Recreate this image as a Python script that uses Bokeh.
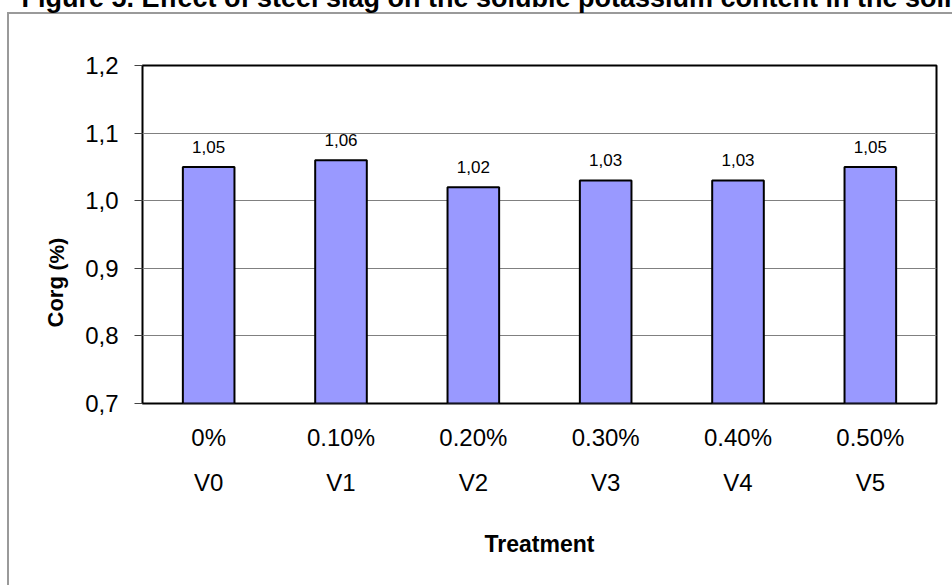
import math

from bokeh.core.properties import value
from bokeh.embed import file_html
from bokeh.models import (CategoricalAxis, ColumnDataSource,
                          CustomJSTickFormatter, FactorRange, FixedTicker, Label,
                          LabelSet, Range1d)
from bokeh.plotting import figure
from bokeh.resources import INLINE

# ---- data -------------------------------------------------------------
treatments = ["V0", "V1", "V2", "V3", "V4", "V5"]
doses = ["0%", "0.10%", "0.20%", "0.30%", "0.40%", "0.50%"]
corg = [1.05, 1.06, 1.02, 1.03, 1.03, 1.05]
y_ticks = [0.7, 0.8, 0.9, 1.0, 1.1, 1.2]
title_text = "Figure 5. Effect of steel slag on the soluble potassium content in the soil"
x_title = "Treatment"

FONT = "Liberation Sans"
Y0, Y1 = 0.7, 1.2
BORDER = "#9a9a9a"

p = figure(
    width=952, height=585,
    x_range=FactorRange(factors=treatments, range_padding=0, factor_padding=0),
    y_range=Range1d(Y0, Y1),
    output_backend="svg", toolbar_location=None,
    min_border_left=142, min_border_right=16,
    min_border_top=65, min_border_bottom=182,
)
p.background_fill_color = "white"
p.border_fill_color = None
p.outline_line_color = "black"
p.outline_line_width = 2
# chart-area border (left and top edges) painted behind the canvas
p.styles = {
    "background": (
        f"linear-gradient({BORDER}, {BORDER}) 7px 12px / 2px 100% no-repeat, "
        f"linear-gradient({BORDER}, {BORDER}) 7px 12px / 100% 2px no-repeat, "
        "white"
    ),
}

# second factor range so the dose row can be labelled on its own axis
p.extra_x_ranges = {"dose": FactorRange(factors=doses, range_padding=0, factor_padding=0)}

# ---- bars ---------------------------------------------------------------
src = ColumnDataSource(dict(
    x=treatments, top=corg,
    txt=[f"{v:.2f}".replace(".", ",") for v in corg],
))
p.vbar(x="x", top="top", bottom=Y0, width=0.39, source=src,
       fill_color="#9999ff", line_color="black", line_width=2)

p.add_layout(LabelSet(x="x", y="top", text="txt", source=src,
                      y_offset=14, text_align="center",
                      text_baseline="alphabetic", text_font=value(FONT),
                      text_font_size="17px", text_color="black"))

# ---- y axis -------------------------------------------------------------
yax = p.yaxis[0]
yax.ticker = FixedTicker(ticks=y_ticks)
yax.formatter = CustomJSTickFormatter(code="return tick.toFixed(1).replace('.', ',');")
yax.major_label_text_font = FONT
yax.major_label_text_font_size = "24px"
yax.major_label_text_color = "black"
yax.major_label_standoff = 16
yax.axis_line_color = None
yax.major_tick_line_color = "#444444"
yax.major_tick_line_width = 1
yax.major_tick_out = 8
yax.major_tick_in = 0
yax.minor_tick_line_color = None

p.ygrid.ticker = FixedTicker(ticks=y_ticks)
p.ygrid.grid_line_color = "#808080"
p.ygrid.grid_line_width = 1
p.xgrid.grid_line_color = None

# ---- x axes: dose row (nearest the bars) and treatment row ---------------
p.xaxis[0].visible = False
dose_ax = CategoricalAxis(x_range_name="dose")
treat_ax = CategoricalAxis()
p.add_layout(dose_ax, "below")
p.add_layout(treat_ax, "below")
for ax in (dose_ax, treat_ax):
    ax.axis_line_color = None
    ax.major_tick_line_color = None
    ax.minor_tick_line_color = None
    ax.major_label_text_font = FONT
    ax.major_label_text_font_size = "24px"
    ax.major_label_text_color = "black"
dose_ax.major_label_standoff = 14
treat_ax.major_label_standoff = 9
treat_ax.axis_label = x_title
treat_ax.axis_label_text_font = FONT
treat_ax.axis_label_text_font_size = "23px"
treat_ax.axis_label_text_font_style = "bold"
treat_ax.axis_label_text_color = "black"
treat_ax.axis_label_standoff = 32

# ---- title and y-axis title, placed in the side panels ---------------------
p.add_layout(Label(x=486, y=-3, x_units="canvas", y_units="canvas",
                   text=title_text, text_align="center",
                   text_baseline="middle", text_font=FONT,
                   text_font_size="27px", text_font_style="bold",
                   text_color="black"), "above")

p.add_layout(Label(x=55, y=327, x_units="canvas", y_units="canvas",
                   text="Corg", angle=math.pi / 2,
                   text_align="left", text_baseline="middle", text_font=FONT,
                   text_font_size="22px", text_font_style="bold",
                   text_color="black"), "left")
p.add_layout(Label(x=56, y=270, x_units="canvas", y_units="canvas",
                   text="(%)", angle=math.pi / 2,
                   text_align="left", text_baseline="middle", text_font=FONT,
                   text_font_size="21px", text_font_style="bold",
                   text_color="black"), "left")

open("out.html", "w").write(file_html(p, INLINE))
